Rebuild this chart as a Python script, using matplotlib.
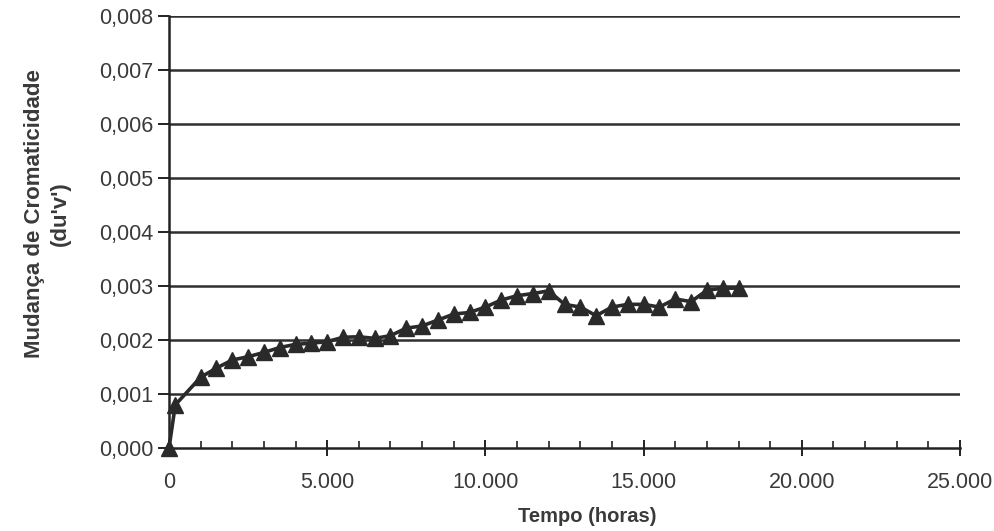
import matplotlib
matplotlib.use("Agg")
import matplotlib.pyplot as plt
from matplotlib.ticker import FuncFormatter, MultipleLocator

plt.rcParams['font.family'] = ['Liberation Sans', 'DejaVu Sans']

# Data
hours = [0, 200, 1000, 1500, 2000, 2500, 3000, 3500, 4000, 4500, 5000,
         5500, 6000, 6500, 7000, 7500, 8000, 8500, 9000, 9500, 10000,
         10500, 11000, 11500, 12000, 12500, 13000, 13500, 14000, 14500,
         15000, 15500, 16000, 16500, 17000, 17500, 18000]
duv = [0.0, 0.00080, 0.00131, 0.00148, 0.00163, 0.00169, 0.00177, 0.00186,
       0.00192, 0.00194, 0.00197, 0.00205, 0.00206, 0.00203, 0.00208,
       0.00222, 0.00226, 0.00237, 0.00248, 0.00251, 0.00261, 0.00274,
       0.00282, 0.00286, 0.00291, 0.00266, 0.00261, 0.00245, 0.00261,
       0.00266, 0.00266, 0.00261, 0.00276, 0.00271, 0.00292, 0.00296,
       0.00296]

x_ticks = [0, 5000, 10000, 15000, 20000, 25000]
y_ticks = [0.000, 0.001, 0.002, 0.003, 0.004, 0.005, 0.006, 0.007, 0.008]

W, H = 995, 531
fig = plt.figure(figsize=(W / 100, H / 100), dpi=100)
ax = fig.add_axes([169/W, 1-448/H, (960-169)/W, (448-16)/H])

ax.set_xlim(0, 25000)
ax.set_ylim(0, 0.008)

for v in y_ticks[1:]:
    ax.axhline(v, color='#2e2e33', lw=1.8, zorder=1)

ax.plot(hours, duv, color='#2a2a2a', lw=2.6, marker='^', markersize=11.5,
        markerfacecolor='#2a2a2a', markeredgecolor='#2a2a2a', zorder=3,
        clip_on=False)

ax.set_xticks(x_ticks)
ax.set_yticks(y_ticks)
ax.xaxis.set_minor_locator(MultipleLocator(1000))

def fx(v, pos):
    return f"{int(round(v)):,}".replace(',', '.')

def fy(v, pos):
    return f"{v:.3f}".replace('.', ',')

ax.xaxis.set_major_formatter(FuncFormatter(fx))
ax.yaxis.set_major_formatter(FuncFormatter(fy))

for s in ['top', 'right']:
    ax.spines[s].set_visible(False)
ax.spines['left'].set_color('#222222')
ax.spines['left'].set_linewidth(1.8)
ax.spines['bottom'].set_color('#222222')
ax.spines['bottom'].set_linewidth(1.8)

ax.tick_params(axis='x', which='major', direction='inout', length=12, width=1.4,
               colors='#222222', labelsize=15.5, pad=11, labelcolor='#3a3a3a')
ax.tick_params(axis='x', which='minor', direction='in', length=5, width=1.2,
               colors='#222222')
ax.tick_params(axis='y', which='major', direction='out', length=8, width=1.4,
               colors='#222222', labelsize=15.5, pad=3, labelcolor='#3a3a3a')

fig.text(587/W, 1-517/H, 'Tempo (horas)', fontsize=14.5, fontweight='bold',
         color='#3a3a3a', ha='center', va='center')
fig.text(47/W, 1-214/H, "Mudança de Cromaticidade\n(du'v')", fontsize=16,
         fontweight='bold', color='#3a3a3a', rotation=90, ha='center',
         va='center', multialignment='center', linespacing=1.3)

fig.savefig('out.png', dpi=100, facecolor='white')
